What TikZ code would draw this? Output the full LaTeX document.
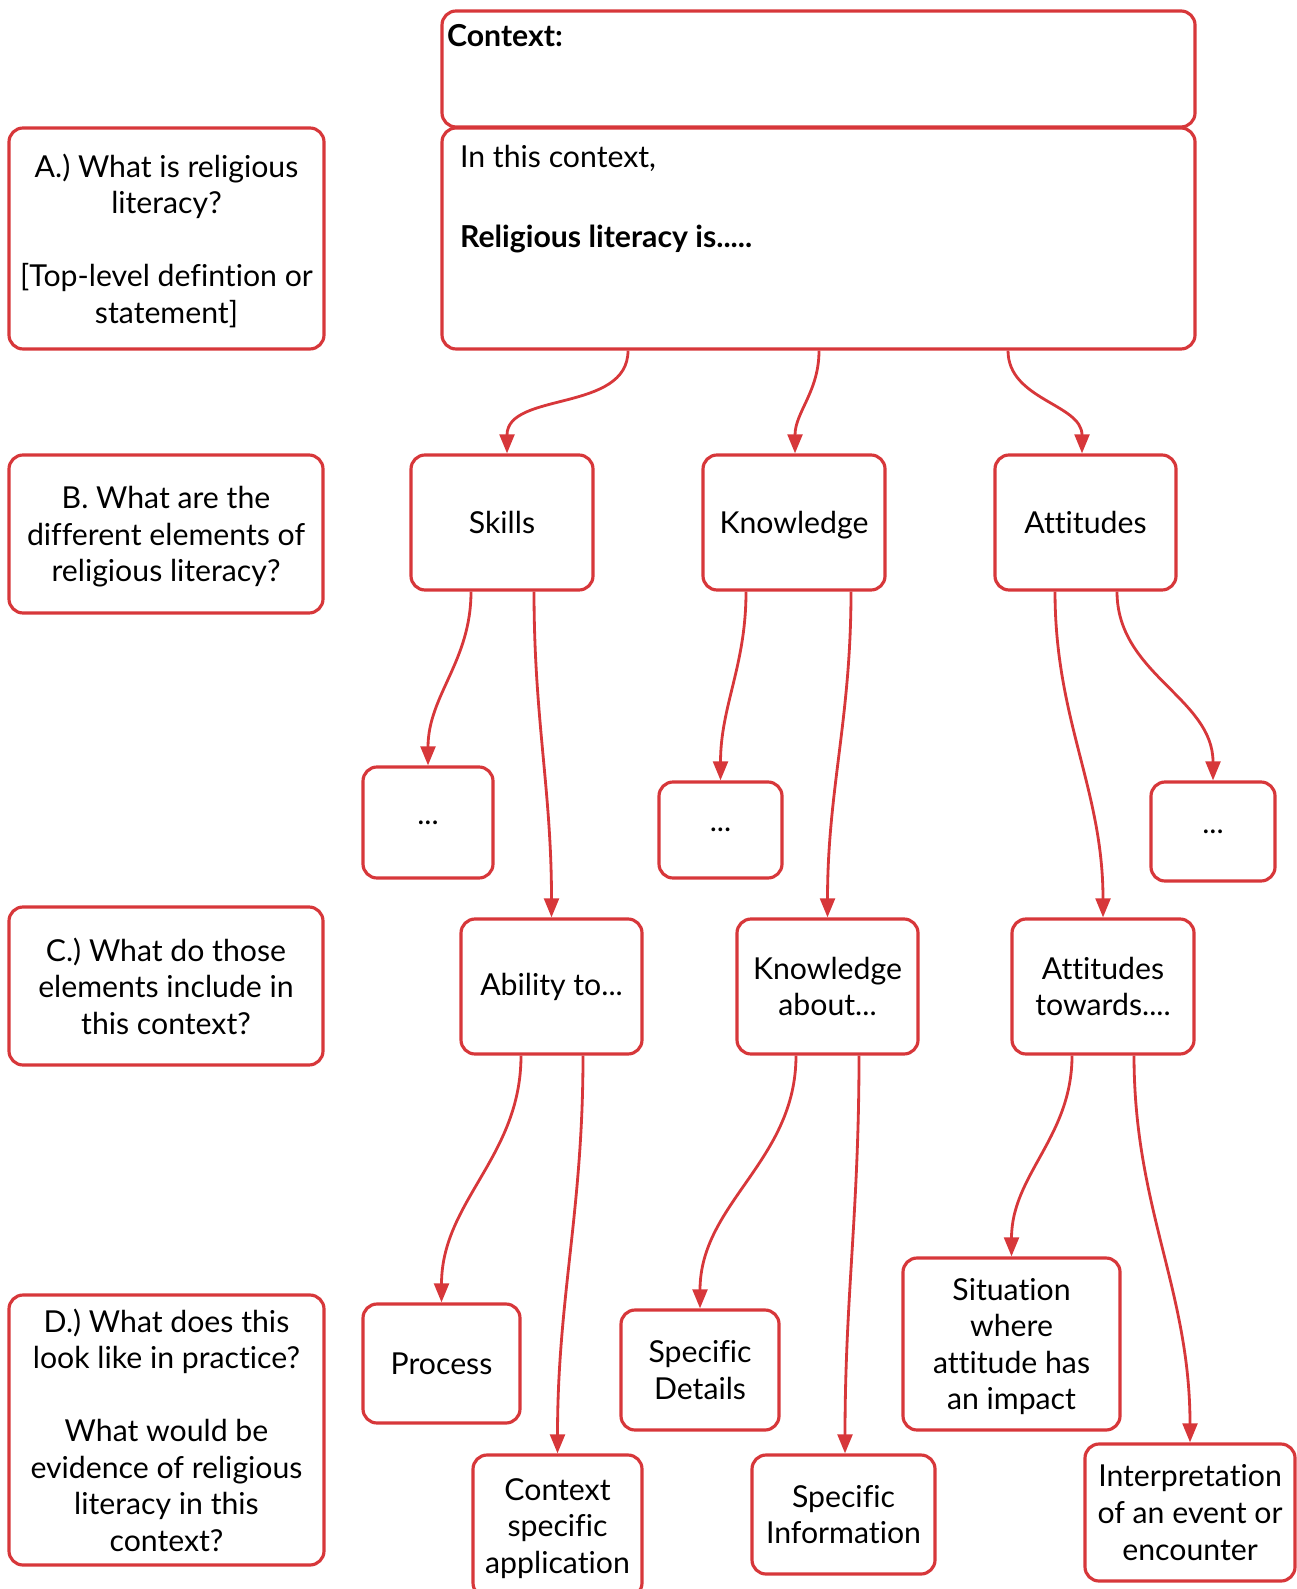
\documentclass[tikz,border=0pt]{standalone}
\usepackage{fontspec}
\setmainfont{Lato}[Ligatures=CommonOff]
\definecolor{boxred}{HTML}{D7373A}
\usetikzlibrary{arrows.meta,positioning}

\begin{document}
\begin{tikzpicture}[
    box/.style={draw=boxred,line width=0.9pt,rounded corners=4pt,align=center,
      inner sep=2pt,font=\fontsize{8.6}{10.4}\selectfont},
    arr/.style={draw=boxred,line width=0.8pt,-{Triangle[length=5.4pt,width=4.2pt]}},
    link/.style={arr,out=-90,in=90}
  ]
  \useasboundingbox (0,0) rectangle (12.96,-15.89);

  % Questions down the left
  \node[box,minimum width=3.15cm,minimum height=2.21cm,text depth=-1.4pt] (qa) at (1.665,-2.385)
    {A.) What is religious\\literacy?\\[10.4pt]{[}Top-level defintion or\\statement{]}};
  \node[box,minimum width=3.14cm,minimum height=1.58cm,text depth=0pt] (qb) at (1.66,-5.34)
    {B. What are the\\different elements of\\religious literacy?};
  \node[box,minimum width=3.14cm,minimum height=1.58cm] (qc) at (1.66,-9.86)
    {C.) What do those\\elements include in\\this context?};
  \node[box,minimum width=3.15cm,minimum height=2.70cm,text depth=-1.4pt] (qd) at (1.665,-14.30)
    {D.) What does this\\look like in practice?\\[10.4pt]What would be\\evidence of religious\\literacy in this\\context?};

  % Context and definition
  \node[box,minimum width=7.53cm,minimum height=1.16cm] (ctx) at (8.185,-0.69) {};
  \node[anchor=north west,inner sep=0pt,font=\fontsize{8.6}{10.4}\selectfont\bfseries]
    (ctxlabel) at ([shift={(0.06,-0.14)}]ctx.north west) {Context:};
  \node[box,minimum width=7.53cm,minimum height=2.21cm] (def) at (8.185,-2.385) {};
  \node[anchor=north west,inner sep=0pt,align=left,font=\fontsize{8.6}{10.4}\selectfont]
    (deftext) at ([shift={(0.19,-0.18)}]def.north west)
    {In this context,\\[12.5pt]\textbf{Religious literacy is.....}};

  % Elements
  \node[box,minimum width=1.82cm,minimum height=1.35cm] (skills) at (5.02,-5.225) {Skills};
  \node[box,minimum width=1.82cm,minimum height=1.35cm,text depth=-3.5pt] (know) at (7.94,-5.225) {Knowledge};
  \node[box,minimum width=1.81cm,minimum height=1.35cm] (att) at (10.855,-5.225) {Attitudes};

  \node[box,minimum width=1.30cm,minimum height=1.11cm] (dotsa) at (4.28,-8.225) {...};
  \node[box,minimum width=1.23cm,minimum height=0.96cm] (dotsb) at (7.205,-8.30) {...};
  \node[box,minimum width=1.24cm,minimum height=0.99cm] (dotsc) at (12.13,-8.315) {...};

  \node[box,minimum width=1.81cm,minimum height=1.35cm] (ability) at (5.515,-9.865) {Ability to...};
  \node[box,minimum width=1.81cm,minimum height=1.35cm,text depth=-3.4pt] (kabout) at (8.275,-9.865) {Knowledge\\about...};
  \node[box,minimum width=1.82cm,minimum height=1.35cm,text depth=-2.6pt] (atow) at (11.03,-9.865) {Attitudes\\towards....};

  % Practice
  \node[box,minimum width=1.57cm,minimum height=1.19cm,text depth=-1.8pt] (process) at (4.415,-13.635) {Process};
  \node[box,minimum width=1.58cm,minimum height=1.20cm] (sdet) at (7.00,-13.70) {Specific\\Details};
  \node[box,minimum width=2.17cm,minimum height=1.72cm,text depth=-5pt] (sit) at (10.115,-13.44)
    {Situation\\where\\attitude has\\an impact};
  \node[box,minimum width=1.69cm,minimum height=1.42cm,text depth=0pt] (capp) at (5.575,-15.26)
    {Context\\specific\\application};
  \node[box,minimum width=1.83cm,minimum height=1.19cm] (sinfo) at (8.435,-15.145)
    {Specific\\Information};
  \node[box,minimum width=2.10cm,minimum height=1.37cm,text depth=-2.6pt] (interp) at (11.90,-15.125)
    {Interpretation\\of an event or\\encounter};

  % Connectors
  \draw[link] ([xshift=-1.905cm]def.south) to ([xshift=0.05cm]skills.north);
  \draw[link] ([xshift=0.005cm]def.south) to ([xshift=0.01cm]know.north);
  \draw[link] ([xshift=1.895cm]def.south) to ([xshift=-0.035cm]att.north);

  \draw[link] ([xshift=-0.31cm]skills.south) to (dotsa.north);
  \draw[link] ([xshift=0.32cm]skills.south) to (ability.north);
  \draw[link] ([xshift=-0.48cm]know.south) to (dotsb.north);
  \draw[link] ([xshift=0.57cm]know.south) to (kabout.north);
  \draw[link] ([xshift=-0.305cm]att.south) to (atow.north);
  \draw[link] ([xshift=0.315cm]att.south) to (dotsc.north);

  \draw[link] ([xshift=-0.305cm]ability.south) to (process.north);
  \draw[link] ([xshift=0.315cm]ability.south) to (capp.north);
  \draw[link] ([xshift=-0.315cm]kabout.south) to (sdet.north);
  \draw[link] ([xshift=0.315cm]kabout.south) to ([xshift=0.015cm]sinfo.north);
  \draw[link] ([xshift=-0.31cm]atow.south) to (sit.north);
  \draw[link] ([xshift=0.31cm]atow.south) to (interp.north);
\end{tikzpicture}
\end{document}
